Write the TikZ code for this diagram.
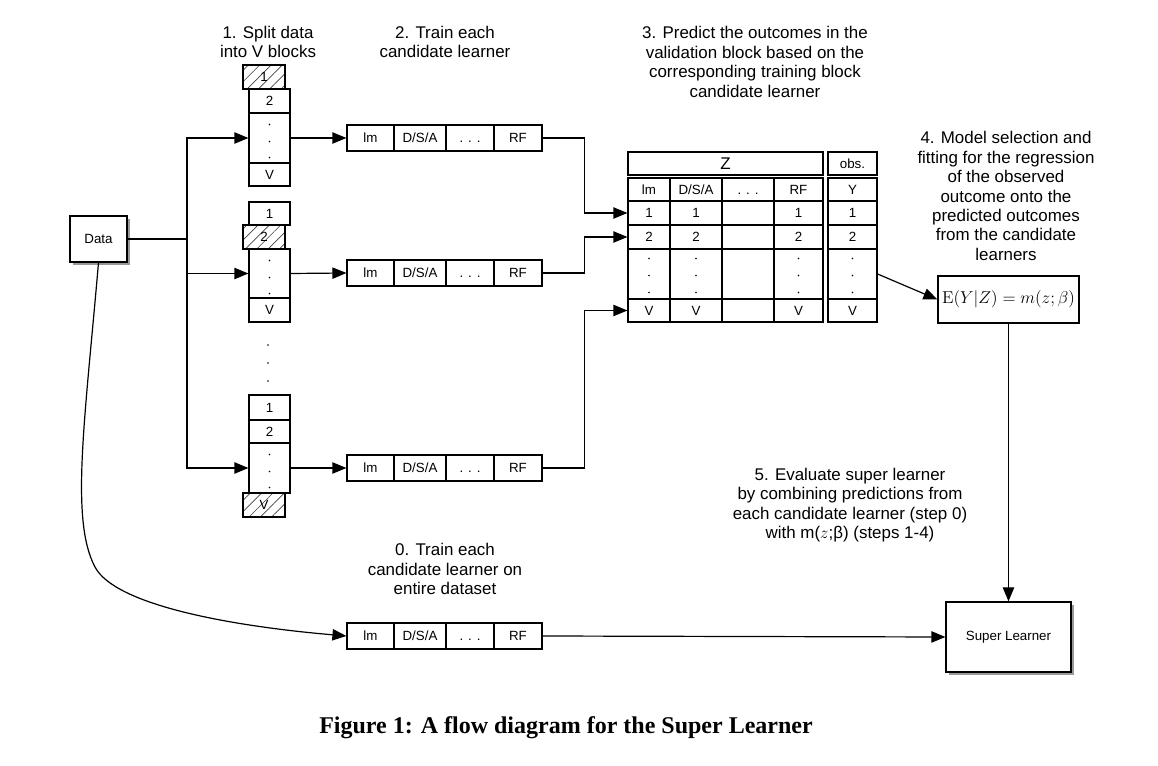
\RequirePackage{fix-cm}
\documentclass[tikz,border=0pt]{standalone}
\usepackage[no-math]{fontspec}
\setmainfont{Liberation Sans}
\newfontfamily\capfont{Liberation Serif}
\usetikzlibrary{arrows.meta,calc,shadows,patterns.meta}

\tikzset{
 cellbox/.style={draw, line width=0.9pt, inner sep=0pt, font=\fontsize{10}{12}\selectfont},
 hatchbox/.style={pattern={Lines[angle=45,distance=6pt,line width=0.5pt]}, pattern color=black!75},
 shadowbox/.style={fill=white, drop shadow={shadow xshift=2pt, shadow yshift=-2pt, fill=black, opacity=0.4}},
 arr/.style={line width=0.9pt, -{Triangle[length=10.5pt,width=8.5pt]}},
 conn/.style={line width=0.9pt},
 heading/.style={align=center, font=\fontsize{12.7}{14.6}\selectfont, inner sep=0pt},
}
\newcommand\cellat[7][]{\node[cellbox,#1,minimum width={(#5-#3)*0.75pt},minimum height={(#6-#4)*0.75pt}] (#2) at ({(#3+#5)/2},{(#4+#6)/2}) {#7};}
\newcommand\threedots[4]{\foreach \dd in {#2,#3,#4}{\fill ($(#1.north)+(0,\dd)$) circle (0.65pt);}}
\newcommand\hdots{\vphantom{1}. . .}
\newcommand\learnerrow[3]{%
 \cellat{#1m}{347}{#2}{394}{#3}{lm}
 \cellat{#1d}{394}{#2}{446}{#3}{D/S/A}
 \cellat{#1x}{446}{#2}{494}{#3}{\hdots}
 \cellat{#1r}{494}{#2}{542}{#3}{RF}}

\begin{document}
\begin{tikzpicture}[x=0.75pt,y=-0.75pt]
\useasboundingbox (0,0) rectangle (1158,766);

% headings
\node[heading] (h1) at (268,42) {1. Split data\\into V blocks};
\node[heading] (h2) at (445,42) {2. Train each\\candidate learner};
\node[heading] (h3) at (755,62) {3. Predict the outcomes in the\\validation block based on the\\corresponding training block\\candidate learner};
\node[heading] (h4) at (1006,196) {4. Model selection and\\fitting for the regression\\of the observed\\outcome onto the\\predicted outcomes\\from the candidate\\learners};
\node[heading] (h5) at (850,505) {5. Evaluate super learner\\by combining predictions from\\each candidate learner (step 0)\\with m($z$;β) (steps 1-4)};
\node[heading] (h0) at (445,569) {0. Train each\\candidate learner on\\entire dataset};
\node[font=\capfont\bfseries\fontsize{18}{22}\selectfont] (cap) at (566,728) {Figure 1: A flow diagram for the Super Learner};

% data
\cellat[shadowbox]{data}{70}{216}{127}{262}{Data}
\coordinate (j) at (187,239);

% stack 1
\cellat[hatchbox]{a1}{243}{65}{285}{89}{1}
\cellat{a2}{249}{89}{290}{113}{2}
\cellat{ad}{249}{113}{290}{163}{}
\cellat{aV}{249}{163}{290}{186}{V}
\threedots{ad}{12}{29}{45}
% stack 2
\cellat{b1}{249}{202}{290}{225}{1}
\cellat[hatchbox]{b2}{243}{225}{285}{249}{2}
\cellat{bd}{249}{249}{290}{298}{}
\cellat{bV}{249}{298}{290}{322}{V}
\threedots{bd}{12}{29}{45}
% vertical dots between stacks
\fill (268,345) circle (0.65pt);
\fill (268,363) circle (0.65pt);
\fill (268,381) circle (0.65pt);
% stack 3
\cellat{c1}{249}{395}{290}{420}{1}
\cellat{c2}{249}{420}{290}{443}{2}
\cellat{cd}{249}{443}{290}{493}{}
\cellat[hatchbox]{cV}{243}{493}{285}{517}{V}
\threedots{cd}{12}{29}{45}

% learners
\learnerrow{l1}{125}{151}
\learnerrow{l2}{260}{286}
\learnerrow{l3}{455}{481}
\learnerrow{l0}{623}{649}

% table
\cellat{tz}{628}{152}{823}{175}{\fontsize{12.7}{14}\selectfont Z}
\cellat{tobs}{828}{152}{877}{175}{obs.}
\cellat{ha}{628}{178}{670}{201}{lm}
\cellat{hb}{670}{178}{722}{201}{D/S/A}
\cellat{hc}{722}{178}{774}{201}{\hdots}
\cellat{hd}{774}{178}{823}{201}{RF}
\cellat{hy}{828}{178}{877}{201}{Y}
\cellat{t1a}{628}{201}{670}{225}{1}
\cellat{t1b}{670}{201}{722}{225}{1}
\cellat{t1c}{722}{201}{774}{225}{}
\cellat{t1d}{774}{201}{823}{225}{1}
\cellat{t1y}{828}{201}{877}{225}{1}
\cellat{t2a}{628}{225}{670}{249}{2}
\cellat{t2b}{670}{225}{722}{249}{2}
\cellat{t2c}{722}{225}{774}{249}{}
\cellat{t2d}{774}{225}{823}{249}{2}
\cellat{t2y}{828}{225}{877}{249}{2}
\cellat{tda}{628}{249}{670}{299}{}
\cellat{tdb}{670}{249}{722}{299}{}
\cellat{tdc}{722}{249}{774}{299}{}
\cellat{tdd}{774}{249}{823}{299}{}
\cellat{tdy}{828}{249}{877}{299}{}
\threedots{tda}{10}{27}{44}
\threedots{tdb}{10}{27}{44}
\threedots{tdd}{10}{27}{44}
\threedots{tdy}{10}{27}{44}
\cellat{tva}{628}{299}{670}{322}{V}
\cellat{tvb}{670}{299}{722}{322}{V}
\cellat{tvc}{722}{299}{774}{322}{}
\cellat{tvd}{774}{299}{823}{322}{V}
\cellat{tvy}{828}{299}{877}{322}{V}

% formula and super learner
\cellat{f}{938}{276}{1079}{323}{\fontsize{12.9}{15}\selectfont$\mathrm{E}(Y|Z)=m(z;\beta)$}
\cellat[shadowbox]{sl}{946}{602}{1071}{672}{Super Learner}

% connectors
\draw[conn] (data.east) -- (j);
\draw[arr] (j) |- (ad.west);
\draw[arr] (j) |- (bd.west);
\draw[arr] (j) |- (cd.west);
\draw[arr] (ad.east) -- (l1m.west);
\draw[arr] (bd.east) -- (l2m.west);
\draw[arr] (cd.east) -- (l3m.west);
\draw[arr] (l1r.east) -- ++(42,0) |- (t1a.west);
\draw[arr] (l2r.east) -- ++(42,0) |- (t2a.west);
\draw[arr] (l3r.east) -- ++(42,0) |- (tva.west);
\draw[arr] (tdy.east) -- (f.west);
\draw[arr] (f.south) -- (sl.north);
\draw[arr] (l0r.east) -- (sl.west);
\coordinate (bend) at (95,567);
\draw[arr] (data.south) .. controls (85,420) and (70,520) .. (bend) .. controls (115,605) and (230,626) .. (l0m.west);
\end{tikzpicture}
\end{document}
